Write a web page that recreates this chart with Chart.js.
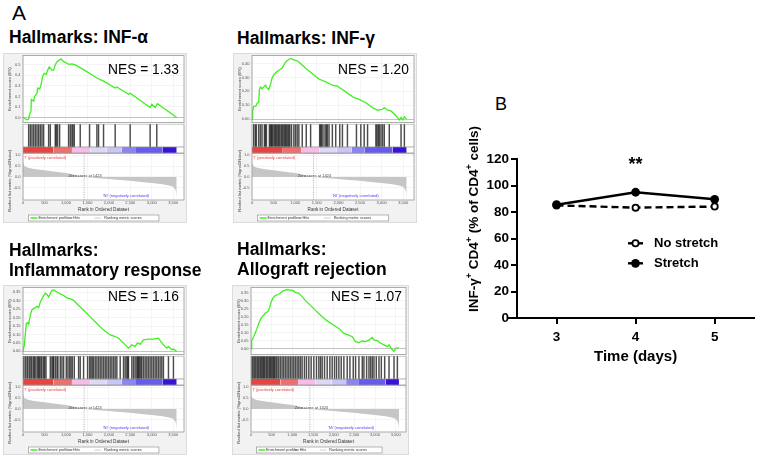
<!DOCTYPE html>
<html>
<head>
<meta charset="utf-8">
<script src="https://cdn.jsdelivr.net/npm/chart.js@4.4.1/dist/chart.umd.min.js"></script>
<style>
html,body{margin:0;padding:0;background:#fff;}
body{width:760px;height:456px;position:relative;overflow:hidden;font-family:"Liberation Sans",Arial,sans-serif;}
.t{position:absolute;white-space:nowrap;line-height:1;color:#000;}
.ttl{position:absolute;white-space:nowrap;font-weight:bold;font-size:17.5px;line-height:20px;color:#000;}
.nes{position:absolute;white-space:nowrap;font-size:13.8px;line-height:1;color:#000;z-index:5;}
.box{position:absolute;background:#f2f2f2;border:1px solid #dcdcdc;box-sizing:border-box;}
canvas{position:absolute;}
</style>
</head>
<body>
<div class="t" style="left:12px;top:2.2px;font-size:21px;">A</div>
<div class="t" style="left:495px;top:94.8px;font-size:18px;">B</div>
<script>
// ---------------- DATA ----------------
// Panel A (GSEA) shared
const datasetSize = 3580;
const zeroCross = 1424;
const rankTicksX = [0, 500, 1000, 1500, 2000, 2500, 3000, 3500];
const rankTicksY = [-0.5, 0, 0.5, 1.0];
const rankPos = [0, 10, 40, 100, 200, 350, 500, 750, 1000, 1250, 1424, 1750, 2000, 2250, 2500, 2750, 3000, 3250, 3400, 3500, 3550, 3570, 3580];
const rankVal = [0.7, 0.6, 0.5, 0.44, 0.39, 0.34, 0.31, 0.24, 0.18, 0.08, 0.0, -0.06, -0.1, -0.14, -0.18, -0.23, -0.28, -0.34, -0.4, -0.46, -0.6, -0.75, -0.95];
const colorBarStart = [0, 713, 1140, 1566, 1953, 2302, 2612, 3256];
const colorBarEnd = [713, 1140, 1566, 1953, 2302, 2612, 3256, 3580];

const gseaTitles = ['Hallmarks: INF-\u03b1', 'Hallmarks: INF-\u03b3', 'Hallmarks:<br>Inflammatory response', 'Hallmarks:<br>Allograft rejection'];
const nesValues = [1.33, 1.20, 1.16, 1.07];
const gseaLegend = ['Enrichment profile', 'Hits', 'Ranking metric scores'];

const esRankINFa = [0, 93, 130, 155, 186, 194, 248, 271, 326, 341, 388, 419, 457, 496, 543, 574, 612, 674, 713, 752, 791, 829, 884, 946, 1023, 1062, 1140, 1217, 1411, 1721, 1876, 2147, 2186, 2457, 2496, 2961, 3000, 3078, 3132, 3580];
const esScoreINFa = [0, -0.022, -0.015, 0.03, 0.06, 0.17, 0.155, 0.2, 0.23, 0.28, 0.27, 0.31, 0.39, 0.42, 0.41, 0.45, 0.48, 0.45, 0.45, 0.5, 0.53, 0.54, 0.556, 0.53, 0.515, 0.505, 0.51, 0.5, 0.455, 0.375, 0.345, 0.28, 0.29, 0.22, 0.23, 0.095, 0.125, 0.095, 0.13, 0];
const hitsINFa = [132, 171, 209, 248, 287, 326, 364, 403, 442, 481, 597, 636, 752, 775, 806, 853, 1062, 1101, 1140, 1163, 1194, 1333, 1550, 1721, 1760, 1876, 2147, 2496, 2961, 3116];
const esTicksINFa = [0, 0.1, 0.2, 0.3, 0.4, 0.5];

const esRankINFg = [0, 15, 39, 93, 116, 155, 170, 194, 232, 271, 310, 348, 388, 427, 465, 504, 543, 582, 620, 674, 698, 736, 775, 814, 868, 915, 969, 1046, 1125, 1241, 1395, 1550, 1705, 1860, 1977, 2093, 2248, 2364, 2480, 2636, 2791, 2907, 3023, 3062, 3139, 3217, 3333, 3411, 3450, 3489, 3527, 3580];
const esScoreINFg = [0, 0.06, 0.09, 0.095, 0.115, 0.12, 0.21, 0.23, 0.22, 0.232, 0.245, 0.225, 0.213, 0.25, 0.296, 0.32, 0.33, 0.344, 0.35, 0.362, 0.367, 0.39, 0.41, 0.42, 0.434, 0.434, 0.427, 0.42, 0.40, 0.367, 0.327, 0.289, 0.268, 0.244, 0.237, 0.213, 0.178, 0.154, 0.142, 0.118, 0.083, 0.064, 0.071, 0.083, 0.064, 0.059, 0.024, -0.005, 0.012, -0.005, 0.017, 0];
const hitsINFg = [39, 77, 101, 155, 194, 232, 287, 310, 333, 403, 427, 449, 465, 488, 519, 543, 566, 597, 620, 644, 674, 698, 721, 752, 775, 799, 829, 853, 876, 915, 969, 1007, 1046, 1085, 1163, 1256, 1357, 1566, 1589, 1612, 1643, 1690, 1720, 1744, 1783, 1860, 1938, 2031, 2093, 2209, 2418, 2519, 2597, 2675, 2868, 2892, 2922, 2946, 2985, 3023, 3062, 3178, 3450, 3527];
const esTicksINFg = [0, 0.05, 0.1, 0.15, 0.2, 0.25, 0.3, 0.35, 0.4, 0.45];

const esRankInfl = [0, 31, 78, 109, 132, 171, 209, 248, 287, 326, 364, 403, 442, 481, 519, 558, 597, 636, 674, 713, 752, 806, 868, 946, 1023, 1101, 1163, 1256, 1411, 1566, 1721, 1876, 2031, 2147, 2225, 2341, 2457, 2535, 2612, 2667, 2729, 2806, 2922, 3039, 3155, 3271, 3349, 3388, 3465, 3504, 3580];
const esScoreInfl = [0, 0.039, 0.165, 0.17, 0.161, 0.214, 0.247, 0.253, 0.259, 0.267, 0.259, 0.292, 0.311, 0.331, 0.344, 0.337, 0.321, 0.344, 0.36, 0.364, 0.356, 0.35, 0.34, 0.331, 0.317, 0.311, 0.305, 0.282, 0.243, 0.204, 0.165, 0.126, 0.097, 0.088, 0.078, 0.049, 0.019, 0.039, 0.029, 0.049, 0.043, 0.068, 0.072, 0.072, 0.078, 0.039, 0.019, 0.029, 0.01, 0.014, 0];
const hitsInfl = [16, 54, 93, 116, 155, 186, 209, 248, 271, 302, 341, 364, 388, 419, 442, 481, 504, 535, 636, 674, 698, 713, 752, 791, 814, 868, 907, 946, 1008, 1047, 1085, 1116, 1147, 1194, 1295, 1333, 1411, 1504, 1550, 1581, 1612, 1643, 1682, 1721, 1760, 1798, 1837, 1876, 1915, 1953, 1992, 2031, 2070, 2109, 2147, 2186, 2264, 2341, 2380, 2419, 2442, 2457, 2535, 2574, 2612, 2651, 2674, 2690, 2713, 2744, 2767, 2806, 2845, 2884, 2922, 2961, 3000, 3039, 3078, 3116, 3155, 3194, 3233, 3271, 3388, 3504];
const esTicksInfl = [0, 0.05, 0.1, 0.15, 0.2, 0.25, 0.3, 0.35];

const esRankAllo = [0, 8, 24, 65, 105, 146, 186, 226, 267, 307, 348, 388, 428, 453, 485, 534, 590, 647, 711, 752, 792, 873, 954, 1019, 1075, 1156, 1237, 1318, 1439, 1560, 1682, 1843, 2005, 2126, 2247, 2369, 2449, 2530, 2611, 2692, 2773, 2854, 2934, 2975, 3056, 3137, 3217, 3298, 3338, 3419, 3460, 3500, 3580];
const esScoreAllo = [0, 0.035, 0.051, 0.076, 0.1, 0.128, 0.158, 0.183, 0.2, 0.21, 0.224, 0.23, 0.24, 0.261, 0.292, 0.319, 0.333, 0.34, 0.348, 0.36, 0.364, 0.37, 0.368, 0.364, 0.354, 0.348, 0.327, 0.302, 0.272, 0.241, 0.21, 0.175, 0.148, 0.128, 0.097, 0.086, 0.076, 0.045, 0.039, 0.049, 0.045, 0.056, 0.072, 0.056, 0.051, 0.035, 0.025, 0.014, 0.025, -0.006, -0.016, 0.004, 0.008];
const hitsAllo = [24, 49, 81, 113, 146, 170, 194, 226, 251, 283, 307, 331, 364, 388, 412, 445, 469, 493, 525, 550, 574, 606, 631, 671, 711, 752, 792, 833, 873, 914, 954, 994, 1035, 1075, 1116, 1156, 1196, 1237, 1293, 1342, 1399, 1455, 1520, 1584, 1641, 1682, 1722, 1779, 1843, 1908, 1964, 2021, 2070, 2126, 2183, 2247, 2328, 2393, 2474, 2530, 2611, 2692, 2732, 2797, 2854, 2894, 2934, 2975, 3031, 3096, 3153, 3234, 3339, 3460, 3541];
const esTicksAllo = [0, 0.05, 0.1, 0.15, 0.2, 0.25, 0.3, 0.35];

// Panel B
const days = ['3', '4', '5'];
const seriesNames = ['Stretch', 'No stretch'];
const stretch = [85.5, 94.9, 89.6];
const noStretch = [85.0, 83.3, 84.1];
const yTicksB = [0, 20, 40, 60, 80, 100, 120];
const sigLabel = '**';
const sigDayIndex = 1;

// ---------------- STYLE / LAYOUT ----------------
const FONT = '"Liberation Sans", Arial, sans-serif';
Chart.defaults.font.family = FONT;
Chart.defaults.animation = false;
Chart.defaults.responsive = false;
Chart.defaults.plugins.legend.display = false;
Chart.defaults.plugins.tooltip.enabled = false;

const xMax = 3750;
const colorBarTop = 0.21;
const colorBarColors = ['#e8433f', '#ef6f6c', '#f6bde8', '#dcd8f8', '#c9c5f7', '#8b85f1', '#665aef', '#3a12d6'];
const esColor = '#3ef01f';

const layouts = [
  {BL: 3, PL: 23, PR: 184, BR: 187, oy: 0, esMin: -0.049, esMax: 0.589, dec: 1, tx: 9, ty: 27.2, nx: 108, ny: 62.8},
  {BL: 233, PL: 252, PR: 414, BR: 417, oy: 0, esMin: -0.025, esMax: 0.458, dec: 2, tx: 237, ty: 28.4, nx: 338, ny: 63.3},
  {BL: 3, PL: 23, PR: 184, BR: 187, oy: 232, esMin: -0.019, esMax: 0.378, dec: 2, tx: 9, ty: 240.2, nx: 108, ny: 290},
  {BL: 232, PL: 251, PR: 406, BR: 409, oy: 232, esMin: -0.036, esMax: 0.384, dec: 2, tx: 237, ty: 239, nx: 331, ny: 290.3}
];
const esData = [
  [esRankINFa, esScoreINFa, hitsINFa, esTicksINFa],
  [esRankINFg, esScoreINFg, hitsINFg, esTicksINFg],
  [esRankInfl, esScoreInfl, hitsInfl, esTicksInfl],
  [esRankAllo, esScoreAllo, hitsAllo, esTicksAllo]
];

function addEl(cls, left, top, html, extra) {
  const d = document.createElement('div');
  d.className = cls; d.style.left = left + 'px'; d.style.top = top + 'px';
  if (extra) Object.assign(d.style, extra);
  d.innerHTML = html;
  document.body.appendChild(d);
  return d;
}
function addCanvas(left, top, w, h) {
  const c = document.createElement('canvas');
  c.width = w; c.height = h;
  c.style.left = left + 'px'; c.style.top = top + 'px';
  c.style.width = w + 'px'; c.style.height = h + 'px';
  document.body.appendChild(c);
  return c;
}

const plotFrame = {
  id: 'plotFrame',
  beforeDraw(chart) {
    const {ctx, chartArea: a} = chart;
    ctx.save(); ctx.fillStyle = '#fff'; ctx.fillRect(a.left, a.top, a.width, a.height); ctx.restore();
  },
  afterDraw(chart) {
    const {ctx, chartArea: a} = chart;
    ctx.save(); ctx.strokeStyle = '#9a9a9a'; ctx.lineWidth = 0.8;
    ctx.strokeRect(a.left, a.top, a.width, a.height); ctx.restore();
  }
};
const barSep = {
  id: 'barSep',
  afterDraw(chart) {
    const {ctx, chartArea: a, scales: {y}} = chart;
    const yy = y.getPixelForValue(colorBarTop);
    ctx.save(); ctx.strokeStyle = '#9a9a9a'; ctx.lineWidth = 0.8;
    ctx.beginPath(); ctx.moveTo(a.left, yy); ctx.lineTo(a.right, yy); ctx.stroke(); ctx.restore();
  }
};
const rankAnnot = {
  id: 'rankAnnot',
  afterDatasetsDraw(chart) {
    const {ctx, chartArea: a, scales: {x, y}} = chart;
    ctx.save();
    const zx = x.getPixelForValue(zeroCross);
    ctx.strokeStyle = '#888'; ctx.lineWidth = 0.6; ctx.setLineDash([1.2, 1.2]);
    ctx.beginPath(); ctx.moveTo(zx, a.top); ctx.lineTo(zx, a.bottom); ctx.stroke();
    ctx.setLineDash([]);
    ctx.font = '4px ' + FONT;
    ctx.textBaseline = 'middle'; ctx.textAlign = 'left';
    ctx.fillStyle = '#e8353a';
    ctx.fillText("'I' (positively correlated)", x.getPixelForValue(30), y.getPixelForValue(0.88));
    ctx.fillStyle = '#444';
    ctx.fillText('Zero cross at ' + zeroCross, x.getPixelForValue(1058), y.getPixelForValue(0.03));
    ctx.fillStyle = '#4a3cf0';
    ctx.fillText("'NI' (negatively correlated)", x.getPixelForValue(1860), y.getPixelForValue(-0.9));
    ctx.restore();
  },
  afterDraw(chart) {
    const {ctx, chartArea: a} = chart;
    ctx.save();
    ctx.translate(7, (a.top + a.bottom) / 2 + 4);
    ctx.rotate(-Math.PI / 2);
    ctx.font = '4.2px ' + FONT; ctx.fillStyle = '#444';
    ctx.textAlign = 'center'; ctx.textBaseline = 'middle';
    ctx.fillText('Ranked list metric (Signal2Noise)', 0, 0);
    ctx.restore();
    // legend box
    const lx = a.left + 5.5, lw = a.width * 0.81, ly = 65, lh = 6;
    const k = lw / 131;
    ctx.save();
    ctx.fillStyle = '#fff'; ctx.fillRect(lx, ly, lw, lh);
    ctx.strokeStyle = '#888'; ctx.lineWidth = 0.6; ctx.strokeRect(lx, ly, lw, lh);
    const items = [
      {c: esColor, w: 1.5, s: 2, e: 9, t: 10},
      {c: '#222', w: 0.8, s: 40.5, e: 44, t: 45},
      {c: '#c4c4c4', w: 0.8, s: 66, e: 73, t: 76}
    ];
    ctx.font = '3.8px ' + FONT; ctx.textBaseline = 'middle'; ctx.textAlign = 'left';
    items.forEach((it, j) => {
      ctx.strokeStyle = it.c; ctx.lineWidth = it.w;
      ctx.beginPath(); ctx.moveTo(lx + it.s * k, ly + lh / 2); ctx.lineTo(lx + it.e * k, ly + lh / 2); ctx.stroke();
      ctx.fillStyle = '#333'; ctx.fillText(gseaLegend[j], lx + it.t * k, ly + lh / 2 + 0.3);
    });
    ctx.restore();
  }
};

function makePanel(i) {
  const L = layouts[i];
  const [esX, esY, hits, esTicks] = esData[i];
  const W = L.BR - L.BL;
  addEl('box', L.BL, L.oy + 53, '', {width: W + 'px', height: '170px'});
  addEl('ttl', L.tx, L.ty, gseaTitles[i]);

  // Enrichment score plot
  new Chart(addCanvas(L.BL, L.oy + 52, W, 74), {
    type: 'line',
    data: {datasets: [{data: esX.map((x, k) => ({x: x, y: esY[k]})), borderColor: esColor, borderWidth: 1.3, pointRadius: 0, fill: false, tension: 0}]},
    options: {
      animation: false,
      layout: {padding: {top: 3.5, bottom: 2.5, left: 0, right: L.BR - L.PR}},
      scales: {
        x: {type: 'linear', min: 0, max: xMax, offset: false,
            ticks: {display: false}, grid: {color: '#ececec', lineWidth: 0.6, drawTicks: false}, border: {display: false},
            afterBuildTicks: s => { s.ticks = rankTicksX.map(v => ({value: v})); },
            afterFit: s => { s.height = 0; }},
        y: {type: 'linear', min: L.esMin, max: L.esMax,
            ticks: {font: {size: 4}, color: '#555', padding: 1, callback: v => Number(v).toFixed(L.dec)},
            grid: {color: c => (c.tick && c.tick.value === 0) ? '#999' : '#ececec', lineWidth: 0.6, tickLength: 1.5},
            border: {display: false},
            title: {display: true, text: 'Enrichment score (ES)', font: {size: 4.3}, color: '#444', padding: {top: 4.3, bottom: 0}},
            afterBuildTicks: s => { s.ticks = esTicks.map(v => ({value: v})); },
            afterFit: s => { s.width = L.PL - L.BL; }}
      }
    },
    plugins: [plotFrame]
  });

  // Hits + color bar
  const ds = [{type: 'bar', data: hits.map(h => ({x: h, y: [colorBarTop, 1]})), backgroundColor: 'rgba(25,25,25,0.78)', barThickness: 0.8, borderWidth: 0}];
  colorBarStart.forEach((s, k) => {
    ds.push({type: 'line', data: [{x: s, y: colorBarTop}, {x: colorBarEnd[k], y: colorBarTop}], fill: 'origin',
             backgroundColor: colorBarColors[k], borderWidth: 0, pointRadius: 0});
  });
  new Chart(addCanvas(L.BL, L.oy + 124, W, 29), {
    type: 'bar',
    data: {datasets: ds},
    options: {
      animation: false,
      layout: {padding: {top: 0, bottom: 0, left: L.PL - L.BL, right: L.BR - L.PR}},
      scales: {
        x: {type: 'linear', min: 0, max: xMax, offset: false, display: false},
        y: {type: 'linear', min: 0, max: 1, display: false}
      }
    },
    plugins: [plotFrame, barSep]
  });

  // Ranked list metric
  new Chart(addCanvas(L.BL, L.oy + 150, W, 74), {
    type: 'line',
    data: {datasets: [{data: rankPos.map((x, k) => ({x: x, y: rankVal[k]})), borderWidth: 0, pointRadius: 0, fill: 'origin', backgroundColor: '#c6c6c6'}]},
    options: {
      animation: false,
      layout: {padding: {top: 3, bottom: 12, left: 0, right: L.BR - L.PR}},
      scales: {
        x: {type: 'linear', min: 0, max: xMax, offset: false,
            ticks: {font: {size: 4}, color: '#555', padding: 0.5, maxRotation: 0, autoSkip: false, callback: v => Number(v).toLocaleString('en-US')},
            grid: {color: '#ececec', lineWidth: 0.6, drawTicks: false}, border: {display: false},
            title: {display: true, text: 'Rank in Ordered Dataset', font: {size: 4.6}, color: '#333', padding: 0},
            afterBuildTicks: s => { s.ticks = rankTicksX.map(v => ({value: v})); },
            afterFit: s => { s.height = 12; }},
        y: {type: 'linear', min: -1.07, max: 1.09,
            ticks: {font: {size: 4}, color: '#555', padding: 1, callback: v => Number(v).toFixed(1)},
            grid: {color: '#ececec', lineWidth: 0.6, tickLength: 1.5}, border: {display: false},
            afterBuildTicks: s => { s.ticks = rankTicksY.map(v => ({value: v})); },
            afterFit: s => { s.width = L.PL - L.BL; }}
      }
    },
    plugins: [plotFrame, rankAnnot]
  });

  addEl('nes', L.nx, L.ny, 'NES = ' + nesValues[i].toFixed(2));
}
[0, 1, 2, 3].forEach(makePanel);

// ---------------- PANEL B ----------------
const panelBDecor = {
  id: 'panelBDecor',
  afterDraw(chart) {
    const {ctx, chartArea: a, scales: {x, y}} = chart;
    // x-axis line extends slightly left of the y axis (Prism style)
    ctx.save(); ctx.strokeStyle = '#000'; ctx.lineWidth = 2;
    ctx.beginPath(); ctx.moveTo(a.left - 10, a.bottom); ctx.lineTo(a.left, a.bottom); ctx.stroke(); ctx.restore();
    // y title with superscripts
    const parts = [['INF-\u03b3', 0], ['+', 1], [' CD4', 0], ['+', 1], [' (% of CD4', 0], ['+', 1], [' cells)', 0]];
    const fMain = 'bold 13.5px ' + FONT, fSup = 'bold 9px ' + FONT;
    ctx.save();
    let total = 0;
    parts.forEach(p => { ctx.font = p[1] ? fSup : fMain; total += ctx.measureText(p[0]).width; });
    ctx.translate(33.3, 99); ctx.rotate(-Math.PI / 2);
    ctx.fillStyle = '#000'; ctx.textAlign = 'left'; ctx.textBaseline = 'alphabetic';
    let cx = -total / 2;
    parts.forEach(p => {
      ctx.font = p[1] ? fSup : fMain;
      ctx.fillText(p[0], cx, p[1] ? -1 : 5);
      cx += ctx.measureText(p[0]).width;
    });
    ctx.restore();
    // significance
    ctx.save();
    ctx.font = 'bold 18px ' + FONT; ctx.fillStyle = '#000';
    ctx.textAlign = 'center'; ctx.textBaseline = 'alphabetic';
    ctx.fillText(sigLabel, x.getPixelForValue(sigDayIndex), y.getPixelForValue(111.5));
    ctx.restore();
    // legend
    const rows = [{name: seriesNames[1], open: true, yy: 123.3}, {name: seriesNames[0], open: false, yy: 143.3}];
    ctx.save();
    rows.forEach(r => {
      ctx.strokeStyle = '#000'; ctx.lineWidth = 2.4;
      ctx.beginPath(); ctx.moveTo(188, r.yy); ctx.lineTo(203, r.yy); ctx.stroke();
      ctx.beginPath();
      if (r.open) {
        ctx.arc(195.5, r.yy, 3.1, 0, Math.PI * 2); ctx.fillStyle = '#fff'; ctx.fill();
        ctx.lineWidth = 1.8; ctx.stroke();
      } else {
        ctx.arc(195.5, r.yy, 4.4, 0, Math.PI * 2); ctx.fillStyle = '#000'; ctx.fill();
      }
      ctx.fillStyle = '#000'; ctx.font = 'bold 13px ' + FONT;
      ctx.textAlign = 'left'; ctx.textBaseline = 'middle';
      ctx.fillText(r.name, 214, r.yy + 0.5);
    });
    ctx.restore();
  }
};

new Chart(addCanvas(440, 120, 320, 246), {
  type: 'line',
  data: {
    labels: days,
    datasets: [
      {label: seriesNames[0], data: stretch, borderColor: '#000', borderWidth: 2.4, pointRadius: 4.4,
       pointBackgroundColor: '#000', pointBorderColor: '#000', pointBorderWidth: 0, tension: 0},
      {label: seriesNames[1], data: noStretch, borderColor: '#000', borderWidth: 2.4, borderDash: [7, 4], pointRadius: 3.1,
       pointBackgroundColor: '#fff', pointBorderColor: '#000', pointBorderWidth: 1.8, tension: 0}
    ]
  },
  options: {
    animation: false,
    layout: {padding: {top: 39, right: 2, left: 0, bottom: 0}},
    scales: {
      x: {type: 'category', offset: true,
          grid: {offset: false, drawOnChartArea: false, drawTicks: true, tickLength: 6, color: '#000', lineWidth: 2},
          border: {display: true, color: '#000', width: 2},
          ticks: {color: '#000', font: {size: 13.5, weight: 'bold'}, padding: 5},
          title: {display: true, text: 'Time (days)', color: '#000', font: {size: 15, weight: 'bold'}, padding: 0},
          afterFit: s => { s.height = 48; }},
      y: {type: 'linear', min: 0, max: 120,
          grid: {drawOnChartArea: false, drawTicks: true, tickLength: 6, color: '#000', lineWidth: 2},
          border: {display: true, color: '#000', width: 2},
          ticks: {color: '#000', font: {size: 13.5, weight: 'bold'}, padding: 2},
          afterBuildTicks: s => { s.ticks = yTicksB.map(v => ({value: v})); },
          afterFit: s => { s.width = 77; }}
    }
  },
  plugins: [panelBDecor]
});
</script>
</body>
</html>
